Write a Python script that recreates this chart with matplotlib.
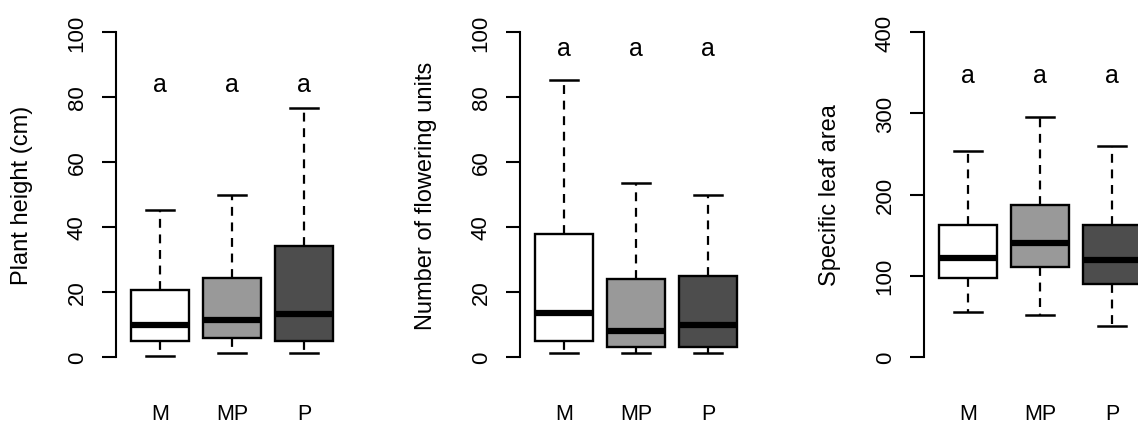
import matplotlib
matplotlib.use('Agg')
from matplotlib import pyplot as plt

plt.rcParams['font.family'] = ['Liberation Sans', 'DejaVu Sans']

GROUPS = ['M', 'MP', 'P']
FILLS = ['#ffffff', '#999999', '#4d4d4d']

YLABELS = ['Plant height (cm)', 'Number of flowering units', 'Specific leaf area']
YTICKS = [[0, 20, 40, 60, 80, 100], [0, 20, 40, 60, 80, 100], [0, 100, 200, 300, 400]]

# five-number summaries per group: lower whisker, Q1, median, Q3, upper whisker
height_low = [0.4, 1.1, 1.1]
height_q1 = [5.0, 5.7, 5.0]
height_med = [9.8, 11.4, 13.3]
height_q3 = [20.6, 24.2, 34.2]
height_high = [45.2, 49.8, 76.5]

flower_low = [1.1, 1.1, 1.1]
flower_q1 = [5.0, 3.0, 3.0]
flower_med = [13.4, 7.9, 9.8]
flower_q3 = [37.7, 24.0, 24.8]
flower_high = [85.2, 53.4, 49.8]

sla_low = [54.8, 52.0, 37.7]
sla_q1 = [97.0, 111.3, 89.6]
sla_med = [121.5, 140.7, 119.4]
sla_q3 = [162.0, 186.5, 162.0]
sla_high = [254.0, 295.0, 260.0]

LETTERS = ['a', 'a', 'a']
LETTER_Y = [84, 95, 347]

panels = [
    (height_low, height_q1, height_med, height_q3, height_high),
    (flower_low, flower_q1, flower_med, flower_q3, flower_high),
    (sla_low, sla_q1, sla_med, sla_q3, sla_high),
]

W, H = 1138, 427
fig = plt.figure(figsize=(W / 100, H / 100), dpi=100)

lefts = [115.5, 519.5, 923.5]

for i, (low, q1, med, q3, high) in enumerate(panels):
    ax = fig.add_axes([lefts[i] / W, 56 / H, 233 / W, 351 / H])

    stats = []
    for j, g in enumerate(GROUPS):
        stats.append({'label': g, 'whislo': low[j], 'q1': q1[j], 'med': med[j],
                      'q3': q3[j], 'whishi': high[j], 'fliers': []})

    bp = ax.bxp(stats, positions=[1, 2, 3], widths=0.8, capwidths=0.4,
                patch_artist=True, showfliers=False,
                boxprops=dict(edgecolor='black', linewidth=1.7),
                medianprops=dict(color='black', linewidth=4.5, solid_capstyle='butt'),
                whiskerprops=dict(color='black', linewidth=1.6, linestyle=(0, (4, 3))),
                capprops=dict(color='black', linewidth=1.8))
    for patch, c in zip(bp['boxes'], FILLS):
        patch.set_facecolor(c)

    ymax = YTICKS[i][-1]
    ax.set_ylim(-0.04 * ymax, 1.04 * ymax)
    ax.set_xlim(0.38, 3.62)
    ax.set_yticks(YTICKS[i])

    for k in range(3):
        ax.text(k + 1, LETTER_Y[i], LETTERS[k], ha='center', va='center', fontsize=18)

    for s in ['top', 'right', 'bottom']:
        ax.spines[s].set_visible(False)
    ax.spines['left'].set_bounds(0, ymax)
    ax.spines['left'].set_linewidth(1.5)

    ax.tick_params(axis='y', length=10, width=1.5, labelsize=16, pad=10, labelrotation=90)
    for lab in ax.get_yticklabels():
        lab.set_va('center')
    ax.tick_params(axis='x', length=0, labelsize=15.5, pad=24)

    ax.set_ylabel(YLABELS[i], fontsize=17, va='center')
    ax.yaxis.set_label_coords(-0.40, 0.5)

fig.savefig('out.png', dpi=100)
